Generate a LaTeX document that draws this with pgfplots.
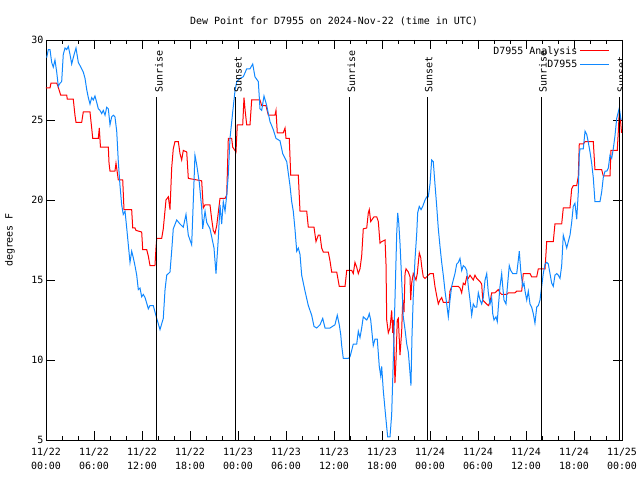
\documentclass[border=0pt]{standalone}
\usepackage{pgfplots}
\pgfplotsset{compat=1.18}
\usepackage{fontspec}
\setmainfont{DejaVu Sans Mono}

\definecolor{anared}{RGB}{255,0,0}
\definecolor{obsblue}{RGB}{16,136,255}

\begin{document}
\begin{tikzpicture}
\fontsize{10}{12}\selectfont

\begin{axis}[
    name=ax,
    scale only axis,
    width=576bp, height=400bp,
    xmin=0, xmax=72, ymin=5, ymax=30,
    xtick={0,6,...,72},
    xticklabels={{11/22\\00:00},{11/22\\06:00},{11/22\\12:00},{11/22\\18:00},
                 {11/23\\00:00},{11/23\\06:00},{11/23\\12:00},{11/23\\18:00},
                 {11/24\\00:00},{11/24\\06:00},{11/24\\12:00},{11/24\\18:00},
                 {11/25\\00:00}},
    xticklabel style={align=center, font=\fontsize{10}{14}\selectfont, yshift=-4.5bp},
    minor x tick num=2,
    ytick={5,10,...,30},
    yticklabel style={xshift=1bp},
    major tick length=9bp, minor tick length=4.5bp,
    tick style={black, line width=0.8bp},
    axis line style={line width=0.8bp},
    /pgf/number format/assume math mode=true,
    title={Dew Point for D7955 on 2024-Nov-22 (time in UTC)},
    title style={yshift=5bp},
    ylabel={degrees F},
    ylabel style={at={(axis description cs:-0.0625,0.5)}, anchor=center},
    legend plot pos=right,
    legend cell align=right,
    legend image code/.code={\draw[#1] (0bp,0bp) -- (29bp,0bp);},
    legend style={draw=none, fill=none, at={(0.98,0.992)}, anchor=north east,
                  row sep=0.5bp, inner sep=1bp},
]

% D7955 Analysis (hours since 11/22 00:00 UTC, deg F)
\addplot[anared, line width=1bp] coordinates {
(0,27.0) (0.5,27.0) (0.62,27.3) (1.34,27.3) (1.5,27.1) (1.84,26.55) (2.59,26.55)
(2.66,26.3) (3.41,26.3) (3.62,25.3) (3.75,24.85) (4.46,24.85) (4.66,25.5) (5.5,25.5)
(5.71,24.5) (5.84,23.85) (6.54,23.85) (6.66,24.5) (6.81,23.3) (7.79,23.3) (7.88,22.3)
(8.0,21.8) (8.62,21.8) (8.75,22.3) (9.04,21.25) (9.59,21.25) (9.75,19.4) (10.71,19.4)
(10.84,18.25) (11.12,18.25) (11.25,18.1) (11.96,18.0) (12.09,16.9) (12.59,16.9)
(12.79,16.5) (13.0,15.9) (13.62,15.9) (13.75,17.0) (13.84,17.6) (14.46,17.6)
(14.66,18.2) (15.0,20.0) (15.29,20.2) (15.5,19.4) (15.71,22.0) (15.91,23.2)
(16.12,23.65) (16.54,23.65) (16.75,22.9) (16.96,22.5) (17.16,23.1) (17.59,23.0)
(17.79,21.35) (19.46,21.2) (19.66,19.5) (19.88,19.7) (20.5,19.7) (20.71,18.8)
(20.91,18.1) (21.12,17.9) (21.34,18.4) (21.75,20.1) (22.38,20.1) (22.59,20.3)
(22.79,23.85) (23.21,23.85) (23.34,23.3) (23.75,23.0) (23.91,24.7) (24.59,24.7)
(24.75,26.4) (24.91,25.5) (25.09,24.7) (25.5,24.7) (25.71,26.25) (26.75,26.25)
(26.96,25.9) (27.5,25.9) (27.79,25.3) (28.62,25.3) (28.75,25.6) (28.91,24.2)
(29.66,24.2) (29.88,24.5) (30.0,23.85) (30.41,23.85) (30.59,21.55) (31.54,21.55)
(31.75,19.3) (32.59,19.3) (32.79,18.3) (33.5,18.3) (33.75,17.4) (34.04,17.8)
(34.25,17.8) (34.46,17.0) (34.66,16.75) (35.29,16.75) (35.5,16.2) (35.71,15.5)
(36.34,15.5) (36.66,14.6) (37.38,14.6) (37.59,15.6) (38.21,15.6) (38.41,15.4)
(38.62,16.1) (38.84,15.8) (39.04,15.4) (39.25,15.7) (39.46,16.5) (39.66,18.2)
(40.09,18.25) (40.29,19.2) (40.41,19.4) (40.59,18.65) (40.79,18.8) (41.0,18.95)
(41.34,18.95) (41.54,18.65) (41.75,17.3) (41.96,17.4) (42.38,17.5) (42.5,16.0)
(42.59,12.5) (42.79,11.7) (43.0,12.0) (43.21,13.1) (43.34,11.7) (43.41,12.5)
(43.62,8.56) (43.75,10.0) (43.91,12.5) (44.04,12.6) (44.25,10.3) (44.46,11.8)
(44.59,13.75) (44.75,13.0) (44.88,15.4) (45.0,15.7) (45.29,15.5) (45.5,15.2)
(45.59,13.75) (45.71,14.8) (45.91,15.4) (46.25,15.0) (46.41,15.4) (46.66,16.7)
(46.84,16.4) (46.96,15.85) (47.16,15.2) (47.38,15.1) (47.59,15.2) (47.79,15.3)
(48.0,15.4) (48.41,15.4) (48.62,14.6) (48.84,14.0) (49.04,13.5) (49.25,13.75)
(49.46,13.9) (49.66,13.6) (50.38,13.6) (50.5,14.3) (50.71,14.6) (51.54,14.6)
(51.75,14.5) (51.96,14.2) (52.16,14.8) (52.38,14.7) (52.59,15.2) (52.79,15.1)
(53.0,15.3) (53.41,15.0) (53.62,15.3) (53.84,15.1) (54.04,15.0) (54.25,14.9)
(54.46,14.75) (54.59,13.75) (54.88,13.6) (55.29,13.4) (55.5,13.6) (55.71,14.2)
(56.12,14.2) (56.54,14.4) (56.75,14.2) (56.96,14.1) (57.59,14.1) (57.79,14.2)
(58.62,14.2) (58.84,14.3) (59.46,14.3) (59.66,15.4) (60.5,15.4) (60.71,15.2)
(61.34,15.2) (61.54,15.7) (62.38,15.7) (62.59,17.4) (63.41,17.4) (63.62,18.5)
(64.46,18.5) (64.66,19.5) (65.5,19.5) (65.71,20.7) (65.91,20.9) (66.34,20.9)
(66.54,21.5) (66.66,23.5) (67.16,23.5) (67.38,23.65) (68.41,23.65) (68.62,21.9)
(69.46,21.9) (69.66,21.5) (70.5,21.5) (70.62,23.1) (71.41,23.1) (71.54,24.3)
(71.66,25.5) (71.81,25.0) (71.94,24.2)
};
\addlegendentry{D7955 Analysis}

% D7955 observations
\addplot[obsblue, line width=1bp] coordinates {
(0.09,28.9) (0.29,29.4) (0.5,29.4) (0.71,28.6) (0.91,28.3) (1.12,28.75) (1.34,28.0)
(1.54,27.1) (1.75,27.3) (1.96,27.4) (2.16,29.1) (2.38,29.5) (2.59,29.4) (2.79,29.6)
(3.0,29.1) (3.21,28.5) (3.41,28.9) (3.75,29.5) (4.04,28.6) (4.25,28.4) (4.46,28.2)
(4.66,28.0) (4.88,27.6) (5.09,26.9) (5.29,26.4) (5.5,26.0) (5.71,26.4) (5.91,26.25)
(6.12,26.5) (6.34,26.1) (6.54,25.7) (6.75,25.6) (6.96,25.4) (7.16,25.6) (7.38,25.3)
(7.59,25.8) (7.79,25.7) (8.0,24.7) (8.21,25.2) (8.41,25.3) (8.62,25.2) (8.84,24.3)
(9.04,22.4) (9.25,20.9) (9.46,19.7) (9.66,19.1) (9.88,19.3) (10.09,18.25) (10.29,17.2)
(10.5,16.1) (10.71,16.8) (10.91,16.4) (11.12,15.9) (11.34,15.3) (11.54,14.4)
(11.75,14.5) (11.96,13.95) (12.16,14.1) (12.38,13.9) (12.59,13.55) (12.79,13.2)
(13.0,13.4) (13.41,13.4) (13.84,12.6) (14.25,11.9) (14.66,12.6) (14.88,14.4)
(15.09,15.3) (15.5,15.5) (15.71,16.8) (15.91,18.2) (16.34,18.75) (16.75,18.5)
(17.16,18.3) (17.5,19.1) (17.79,17.8) (18.21,17.2) (18.41,19.9) (18.62,22.8)
(18.84,22.2) (19.16,21.1) (19.46,19.5) (19.59,18.2) (19.88,19.3) (20.09,18.6)
(20.5,18.2) (20.71,17.7) (21.0,17.0) (21.25,15.4) (21.54,17.6) (21.75,19.7)
(21.96,18.5) (22.16,19.9) (22.38,19.3) (22.59,20.3) (22.79,21.6) (23.0,23.85)
(23.34,25.5) (23.62,26.8) (23.84,27.4) (24.25,27.6) (24.66,27.7) (25.09,28.2)
(25.5,28.2) (25.84,28.5) (26.12,27.7) (26.54,27.4) (26.75,25.7) (26.96,25.6)
(27.25,26.5) (27.59,25.9) (27.79,25.4) (28.0,24.9) (28.41,24.4) (28.75,23.85)
(29.25,23.7) (29.59,22.9) (30.09,22.4) (30.5,20.9) (30.71,19.9) (30.91,19.3)
(31.12,18.2) (31.34,16.8) (31.54,17.0) (31.75,16.6) (31.96,15.3) (32.38,14.3)
(32.79,13.4) (33.21,12.8) (33.5,12.1) (33.84,12.0) (34.25,12.2) (34.59,12.6)
(34.88,12.0) (35.5,12.0) (36.12,12.2) (36.41,12.8) (36.66,12.2) (36.84,11.6)
(36.96,10.9) (37.16,10.1) (37.79,10.1) (38.0,10.2) (38.21,10.6) (38.41,11.0)
(38.84,11.0) (39.04,11.8) (39.25,11.4) (39.46,12.0) (39.66,12.7) (40.09,12.5)
(40.29,12.7) (40.41,12.9) (40.59,12.5) (40.71,11.9) (40.91,10.9) (41.12,11.3)
(41.41,11.3) (41.66,9.6) (41.84,9.0) (41.96,9.6) (42.16,8.1) (42.38,6.9) (42.59,5.8)
(42.71,5.2) (43.0,5.2) (43.21,6.6) (43.41,10.0) (43.62,13.75) (43.84,17.9)
(43.96,19.2) (44.09,18.6) (44.25,17.3) (44.46,15.0) (44.66,12.7) (44.88,11.9)
(45.09,11.0) (45.29,10.5) (45.5,9.2) (45.62,8.4) (45.75,11.5) (45.91,14.0)
(46.12,16.25) (46.34,17.9) (46.46,19.2) (46.66,19.6) (46.88,19.4) (47.09,19.6)
(47.38,20.0) (47.59,20.2) (47.79,20.2) (48.0,21.0) (48.21,22.5) (48.41,22.4)
(48.62,21.0) (48.84,19.6) (49.04,18.2) (49.25,17.1) (49.46,16.1) (49.66,15.3)
(49.88,14.3) (50.09,13.5) (50.29,12.7) (50.5,13.75) (50.71,14.6) (50.91,15.0)
(51.12,15.4) (51.34,16.0) (51.54,16.1) (51.75,16.35) (51.96,15.6) (52.16,15.9)
(52.38,15.8) (52.59,15.6) (52.79,14.6) (53.0,13.75) (53.21,12.8) (53.41,13.5)
(53.62,13.3) (53.84,13.3) (54.04,14.2) (54.25,13.75) (54.46,13.5) (54.66,13.9)
(54.88,15.0) (55.09,15.4) (55.29,14.2) (55.5,13.5) (55.71,13.9) (55.84,12.9)
(56.0,12.5) (56.25,12.7) (56.41,12.4) (56.54,13.3) (56.75,14.6) (56.96,15.4)
(57.09,14.6) (57.25,13.75) (57.5,13.5) (57.66,14.5) (57.91,15.9) (58.09,15.6)
(58.34,15.4) (58.84,15.4) (59.04,16.25) (59.16,16.8) (59.34,15.6) (59.59,14.6)
(59.75,14.8) (59.88,14.3) (60.09,13.75) (60.29,14.3) (60.5,13.5) (60.71,13.3)
(60.91,12.9) (61.12,12.3) (61.34,13.3) (61.54,13.4) (61.75,13.75) (61.96,14.6)
(62.16,15.4) (62.38,16.0) (62.59,16.1) (62.79,16.0) (63.0,15.4) (63.21,14.8)
(63.41,14.6) (63.62,15.3) (63.84,15.4) (64.04,15.3) (64.25,15.1) (64.46,15.9)
(64.66,17.8) (64.88,17.4) (65.09,17.0) (65.29,17.4) (65.5,17.8) (65.71,18.6)
(65.91,19.6) (66.12,19.8) (66.34,18.8) (66.54,20.5) (66.66,22.8) (66.75,23.2)
(67.16,23.2) (67.38,24.3) (67.59,24.1) (67.79,23.6) (68.0,23.0) (68.21,22.3)
(68.41,21.4) (68.62,19.9) (69.25,19.9) (69.46,20.5) (69.66,21.4) (69.88,21.8)
(70.09,21.8) (70.29,22.0) (70.5,22.8) (70.71,22.6) (70.91,23.2) (71.12,24.0)
(71.34,25.1) (71.54,25.5) (71.66,25.75) (71.88,25.0)
};
\addlegendentry{D7955}

% sunrise / sunset markers
\addplot[black, line width=1bp, forget plot] coordinates {(13.875,5) (13.875,26.45)};
\addplot[black, line width=1bp, forget plot] coordinates {(23.75,5) (23.75,26.45)};
\addplot[black, line width=1bp, forget plot] coordinates {(37.94,5) (37.94,26.45)};
\addplot[black, line width=1bp, forget plot] coordinates {(47.63,5) (47.63,26.45)};
\addplot[black, line width=1bp, forget plot] coordinates {(61.875,5) (61.875,26.45)};
\addplot[black, line width=1bp, forget plot] coordinates {(71.69,5) (71.69,26.45)};

\node[rotate=90, anchor=north west, inner sep=0pt] at (axis cs:13.6,26.7) {Sunrise};
\node[rotate=90, anchor=north west, inner sep=0pt] at (axis cs:23.5,26.7) {Sunset};
\node[rotate=90, anchor=north west, inner sep=0pt] at (axis cs:37.67,26.7) {Sunrise};
\node[rotate=90, anchor=north west, inner sep=0pt] at (axis cs:47.36,26.7) {Sunset};
\node[rotate=90, anchor=north west, inner sep=0pt] at (axis cs:61.6,26.7) {Sunrise};
\node[rotate=90, anchor=north west, inner sep=0pt] at (axis cs:71.42,26.7) {Sunset};

\end{axis}

\pgfresetboundingbox
\path[use as bounding box] ([xshift=-46bp,yshift=-40bp]ax.south west)
    rectangle ([xshift=18bp,yshift=40bp]ax.north east);
\end{tikzpicture}
\end{document}
